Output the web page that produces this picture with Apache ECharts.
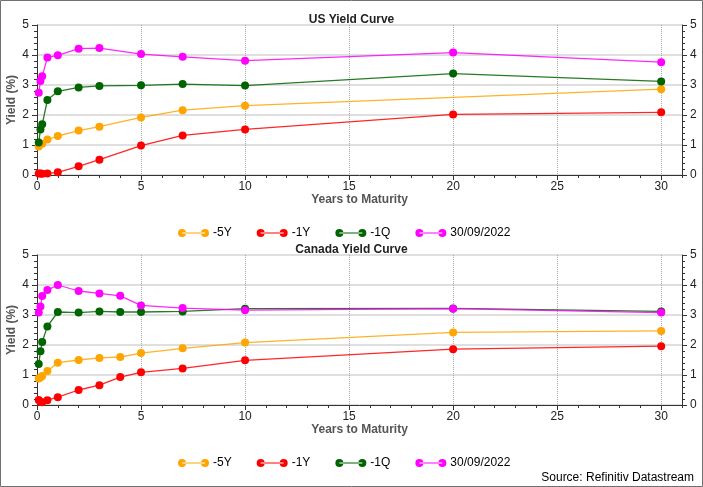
<!DOCTYPE html>
<html><head><meta charset="utf-8">
<script src="https://cdn.jsdelivr.net/npm/echarts@6/dist/echarts.min.js"></script>
<style>html,body{margin:0;padding:0;background:#fff}#c{width:703px;height:487px}</style>
</head><body><div id="c"></div>
<script>
// ---- data ----
const usMaturities = [1/12, 2/12, 0.25, 0.5, 1, 2, 3, 5, 7, 10, 20, 30];
const us5Y   = [0.95, null, 1.04, 1.18, 1.30, 1.48, 1.61, 1.92, 2.16, 2.31, null, 2.86];
const us1Y   = [0.05, 0.05, 0.04, 0.05, 0.09, 0.29, 0.51, 0.98, 1.32, 1.52, 2.02, 2.09];
const us1Q   = [1.08, 1.52, 1.69, 2.50, 2.79, 2.92, 2.97, 2.99, 3.03, 2.98, 3.38, 3.12];
const usNow  = [2.74, 3.13, 3.29, 3.92, 3.99, 4.21, 4.23, 4.03, 3.94, 3.81, 4.08, 3.76];

const caMaturities = [1/12, 2/12, 0.25, 0.5, 1, 2, 3, 4, 5, 7, 10, 20, 30];
const ca5Y  = [0.88, 0.92, 0.97, 1.13, 1.41, 1.50, 1.57, 1.60, 1.73, 1.89, 2.08, 2.42, 2.47];
const ca1Y  = [0.17, 0.10, 0.09, 0.16, 0.26, 0.50, 0.66, 0.93, 1.09, 1.22, 1.49, 1.86, 1.96];
const ca1Q  = [1.37, 1.79, 2.10, 2.62, 3.10, 3.08, 3.12, 3.10, 3.10, 3.12, 3.21, 3.22, 3.12];
const caNow = [3.08, 3.28, 3.63, 3.83, 4.00, 3.80, 3.72, 3.64, 3.32, 3.23, 3.16, 3.21, 3.08];

const seriesNames = ['-5Y', '-1Y', '-1Q', '30/09/2022'];
const seriesColors = ['#FFA500', '#FF0000', '#006400', '#FF00FF'];
const chartTitles = ['US Yield Curve', 'Canada Yield Curve'];
const xAxisName = 'Years to Maturity';
const yAxisName = 'Yield (%)';
const sourceText = 'Source: Refinitiv Datastream';

// ---- build ----
const FONT = 'Liberation Sans, Arial, sans-serif';
const pair = (xs, ys) => xs.map((x, i) => [x, ys[i]]);
const grids = [
  {left: 37, right: 21, top: 25, height: 150, outerBoundsMode: 'none', containLabel: false},
  {left: 37, right: 21, top: 255, height: 150, outerBoundsMode: 'none', containLabel: false}
];
const xAxes = [], yAxes = [], series = [];
const axisColor = '#333';
grids.forEach((g, gi) => {
  xAxes.push({gridIndex: gi, type: 'value', position: 'bottom', min: 0, max: 31, interval: 1,
    axisLine: {show: true, onZero: false, lineStyle: {color: axisColor}},
    axisTick: {show: true, length: 3, lineStyle: {color: axisColor}},
    axisLabel: {show: false}, splitLine: {show: false}});
  xAxes.push({gridIndex: gi, type: 'value', position: 'bottom', offset: 0, min: 0, max: 31, interval: 5,
    axisLine: {show: false, onZero: false},
    axisTick: {show: true, length: 5, lineStyle: {color: axisColor}},
    axisLabel: {color: '#222', fontSize: 12, fontFamily: FONT, margin: 6, showMaxLabel: false},
    splitLine: {show: true, lineStyle: {color: '#aaa', type: 'dotted', width: 1}},
    name: xAxisName, nameLocation: 'middle', nameGap: 19, nameMoveOverlap: false,
    nameTextStyle: {color: '#555', fontWeight: 'bold', fontSize: 12, fontFamily: FONT}});
  const yCommon = {gridIndex: gi, type: 'value', min: 0, max: 5, interval: 1,
    axisLine: {show: true, onZero: false, lineStyle: {color: axisColor}},
    axisTick: {show: true, length: 5, lineStyle: {color: axisColor}},
    minorTick: {show: true, splitNumber: 5, length: 3, lineStyle: {color: axisColor}},
    axisLabel: {color: '#222', fontSize: 12, fontFamily: FONT, margin: 8}};
  yAxes.push(Object.assign({}, yCommon, {position: 'left',
    splitLine: {show: true, lineStyle: {color: '#d4d4d4', width: 1.5}},
    name: yAxisName, nameLocation: 'middle', nameGap: 19, nameMoveOverlap: false,
    nameTextStyle: {color: '#555', fontWeight: 'bold', fontSize: 12, fontFamily: FONT}}));
  yAxes.push(Object.assign({}, yCommon, {position: 'right', splitLine: {show: false}}));
});
const data = [[us5Y, us1Y, us1Q, usNow], [ca5Y, ca1Y, ca1Q, caNow]];
const mats = [usMaturities, caMaturities];
data.forEach((set, gi) => {
  set.forEach((ys, si) => {
    series.push({type: 'line', name: seriesNames[si], xAxisIndex: gi * 2, yAxisIndex: gi * 2,
      data: pair(mats[gi], ys).filter(p => p[1] !== null),
      symbol: 'circle', symbolSize: 8, showSymbol: true,
      itemStyle: {color: seriesColors[si]},
      lineStyle: {color: seriesColors[si], width: 1.3, opacity: 0.85},
      emphasis: {disabled: true}, animation: false});
  });
});
const legendIcon = 'path://M0,4a4,4 0 1,0 8,0a4,4 0 1,0 -8,0Z M4,3.4h23v1.2h-23Z M23,4a4,4 0 1,0 8,0a4,4 0 1,0 -8,0Z';
const legendCommon = {orient: 'horizontal', left: 178, padding: 0, itemWidth: 31, itemHeight: 8, itemGap: 25,
  icon: legendIcon, textStyle: {color: '#000', fontSize: 12, fontFamily: FONT, padding: [0, 0, 0, -1]},
  data: seriesNames, selectedMode: false};
const option = {
  animation: false,
  backgroundColor: '#fff',
  title: [
    {text: chartTitles[0], left: 'center', top: 9, textStyle: {fontSize: 12, fontWeight: 'bold', color: '#222', fontFamily: FONT}},
    {text: chartTitles[1], left: 'center', top: 239, textStyle: {fontSize: 12, fontWeight: 'bold', color: '#222', fontFamily: FONT}}
  ],
  grid: grids,
  xAxis: xAxes,
  yAxis: yAxes,
  legend: [Object.assign({}, legendCommon, {top: 227}), Object.assign({}, legendCommon, {top: 457})],
  graphic: [
    {type: 'rect', shape: {x: 0.5, y: 0.5, width: 702, height: 486}, style: {fill: 'none', stroke: '#707070', lineWidth: 1}, silent: true},
    {type: 'text', right: 9, top: 472, style: {text: sourceText, fill: '#000', font: '12px ' + FONT}}
  ],
  series: series
};
const chart = echarts.init(document.getElementById('c'), null, {renderer: 'canvas'});
chart.setOption(option);
</script></body></html>
